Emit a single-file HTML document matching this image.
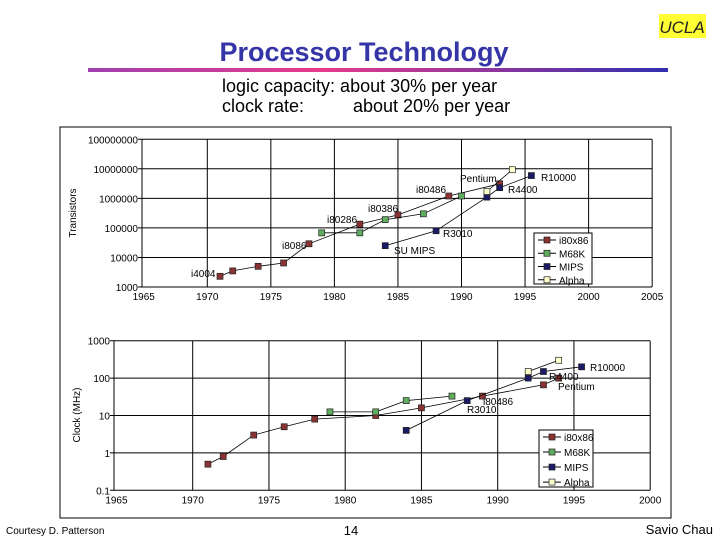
<!DOCTYPE html>
<html><head><meta charset="utf-8"><style>
html,body{margin:0;padding:0;background:#fff;}
svg{display:block;font-family:"Liberation Sans",Arial,sans-serif;}
</style></head><body>
<svg id="s" width="720" height="540" viewBox="0 0 720 540" xmlns="http://www.w3.org/2000/svg">
<defs><linearGradient id="g" x1="0" x2="1" y1="0" y2="0"><stop offset="0" stop-color="#a040b0"/><stop offset="0.4" stop-color="#e83a8a"/><stop offset="1" stop-color="#3030b0"/></linearGradient></defs>
<rect x="659" y="14" width="47" height="24" fill="#ffff33"/>
<text x="682" y="33" font-size="17" font-style="italic" text-anchor="middle" fill="#222">UCLA</text>
<text x="364" y="61" font-size="27" font-weight="bold" fill="#3535a8" text-anchor="middle">Processor Technology</text>
<rect x="88" y="68" width="580" height="4" fill="url(#g)"/>
<text x="222" y="92" font-size="18" fill="#000">logic capacity: about 30% per year</text>
<text x="222" y="112" font-size="18" fill="#000">clock rate:</text>
<text x="353" y="112" font-size="18" fill="#000">about 20% per year</text>
<rect x="60" y="127" width="611" height="391" fill="none" stroke="#000" stroke-width="1"/>
<g id="top"></g>
<g id="bot"></g>
<text x="6" y="534" font-size="10">Courtesy D. Patterson</text>
<text x="351" y="535" font-size="13" text-anchor="middle">14</text>
<text x="713" y="534" font-size="13" text-anchor="end">Savio Chau</text>
</svg>
<script>
const seriesNames=["i80x86","M68K","MIPS","Alpha"];
const seriesColors=["#8b3333","#5fae5f","#1a1a66","#ffffcc"];
// Transistor counts
const tYears=[[1971,1972,1974,1976,1978,1982,1985,1989,1993],[1979,1982,1984,1987,1990],[1984,1988,1992,1993,1995.5],[1992,1994]];
const tVals=[[2300,3500,5000,6500,29000,134000,275000,1200000,3100000],[68000,68000,190000,300000,1200000],[25000,80000,1100000,2300000,5900000],[1700000,9300000]];
// Clock rates (MHz)
const cYears=[[1971,1972,1974,1976,1978,1982,1985,1989,1993,1994],[1979,1982,1984,1987],[1984,1988,1992,1993,1995.5],[1992,1994]];
const cVals=[[0.5,0.8,3,5,8,10,16,33,66,100],[12.5,12.5,25,33],[4,25,100,150,200],[150,300]];
const tYTicks=[1000,10000,100000,1000000,10000000,100000000];
const tYTickLabels=["1000","10000","100000","1000000","10000000","100000000"];
const cYTicks=[0.1,1,10,100,1000];
const cYTickLabels=["0.1","1","10","100","1000"];
const xTicksTop=[1965,1970,1975,1980,1985,1990,1995,2000,2005];
const xTicksBot=[1965,1970,1975,1980,1985,1990,1995,2000];

const NS="http://www.w3.org/2000/svg";
function mk(p,t,a,txt){const e=document.createElementNS(NS,t);for(const k in a)e.setAttribute(k,a[k]);if(txt!==undefined)e.textContent=txt;p.appendChild(e);return e;}
const xT=y=>207.3+(y-1970)*12.71;
const yT=v=>287-(Math.log10(v)-3)*29.55;
const xB=y=>192.7+(y-1970)*15.25;
const yB=v=>490.3-(Math.log10(v)+1)*37.4;

function chart(g,xs,ys,xTicks,yTicks,yLabels,years,vals,L,R,axisTitle,atx,aty,pre,labels,legend){
  const top=ys(yTicks[yTicks.length-1]),bot=ys(yTicks[0]);
  xTicks.forEach(t=>{const x=Math.max(L,xs(t));
    if(t>xTicks[0]&&x<=R+1){const l=mk(g,'line',{x1:x,x2:x,y1:top,y2:bot,stroke:'#000','stroke-width':1});
    
    }
    const tx=mk(g,'text',{x:x,y:bot+13,'font-size':10,'text-anchor':'middle'},String(t));
    
    
  });
  yTicks.forEach((t,i)=>{const y=ys(t);
    const l=mk(g,'line',{x1:L-4,x2:R,y1:y,y2:y,stroke:'#000','stroke-width':1});
    
    
    const tx=mk(g,'text',{x:L-4,y:y+4,'font-size':10,'text-anchor':'end'},yLabels[i]);
    
    
  });
  const ax=mk(g,'line',{x1:L,x2:L,y1:top,y2:bot,stroke:'#000','stroke-width':1});
  
  
  const at=mk(g,'text',{x:atx,y:aty,'font-size':10,'text-anchor':'middle',transform:`rotate(-90 ${atx} ${aty})`},axisTitle);
  
  
  years.forEach((yrs,s)=>{
    const pts=yrs.map((y,i)=>xs(y).toFixed(1)+','+ys(vals[s][i]).toFixed(1)).join(' ');
    const pl=mk(g,'polyline',{points:pts,fill:'none',stroke:'#000','stroke-width':0.8});
    
    
    yrs.forEach((y,i)=>{const r=mk(g,'rect',{x:xs(y)-3,y:ys(vals[s][i])-3,width:6,height:6,fill:seriesColors[s],stroke:'#222','stroke-width':0.7});
      
      });
  });
  labels.forEach(l=>{const t=mk(g,'text',{x:l[1],y:l[2],'font-size':10},l[0]);
    
    });
  const [lx,ly,lw,lh]=legend;
  const lb=mk(g,'rect',{x:lx,y:ly,width:lw,height:lh,fill:'#fff',stroke:'#000','stroke-width':1});
  
  
  seriesNames.forEach((n,i)=>{const yy=ly+7+i*(lh-10)/3.4+i*1.2;
    const ln=mk(g,'line',{x1:lx+4,x2:lx+22,y1:yy,y2:yy,stroke:'#000','stroke-width':1});
    
    
    const r=mk(g,'rect',{x:lx+10,y:yy-3,width:6,height:6,fill:seriesColors[i],stroke:'#222','stroke-width':0.7});
    
    
    const t=mk(g,'text',{x:lx+25,y:yy+4,'font-size':10},n);
    
    });
}
chart(document.getElementById('top'),xT,yT,xTicksTop,tYTicks,tYTickLabels,tYears,tVals,142,652,'Transistors',76,213,'transistor-',
 [["Pentium",460,182],["R10000",541,181],["R4400",508,193],["i80486",416,193],["i80386",368,212],["i80286",327,223],["R3010",443,237],["i8086",282,249],["SU MIPS",394,254],["i4004",191,277]],
 [534,233,58,51]);
chart(document.getElementById('bot'),xB,yB,xTicksBot,cYTicks,cYTickLabels,cYears,cVals,114,650,'Clock (MHz)',80,415,'clock-',
 [["R10000",590,371],["R4400",549,380],["Pentium",558,390],["i80486",483,405],["R3010",467,413]],
 [539,430,54,57]);
</script>
</body></html>
